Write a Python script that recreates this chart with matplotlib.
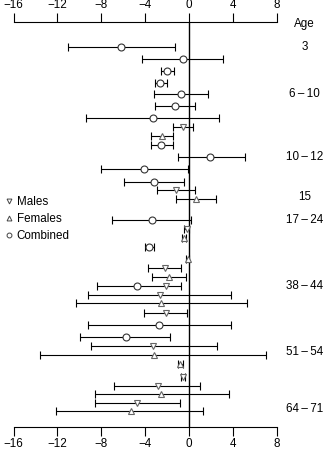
import matplotlib.pyplot as plt
from matplotlib.lines import Line2D

plt.rcParams['font.family'] = ['Liberation Sans', 'DejaVu Sans']

# one entry per estimate, top to bottom; row is the vertical slot position
row = [4.73, 5.93, 7.10, 8.30, 9.43, 10.63, 11.83, 12.73, 13.63, 14.53,
       15.67, 16.90, 18.17, 19.00, 19.87, 22.03, 22.93, 23.80, 24.67, 25.93,
       26.83, 27.67, 28.60, 28.60, 29.50, 30.33, 31.27, 32.50, 33.67, 34.60,
       35.47, 36.40, 37.67, 38.57, 39.40, 40.33, 41.13]
group = ['C', 'C', 'C', 'C', 'C', 'C', 'C', 'M', 'F', 'C',
         'C', 'C', 'C', 'M', 'F', 'C', 'M', 'F', 'C', 'F',
         'M', 'F', 'C', 'M', 'M', 'F', 'M', 'C', 'C', 'M',
         'F', 'F', 'M', 'M', 'F', 'M', 'F']
est = [-6.20, -0.57, -2.00, -2.64, -0.76, -1.27, -3.33, -0.60, -2.46, -2.55,
       1.89, -4.15, -3.21, -1.18, 0.61, -3.43, -0.24, -0.45, -3.70, -0.15,
       -2.19, -1.88, -4.74, -2.12, -2.67, -2.61, -2.12, -2.79, -5.79, -3.31,
       -3.24, -0.82, -0.57, -2.85, -2.58, -4.79, -5.34]
lower = [-11.00, -4.33, -2.58, -3.15, -3.19, -3.10, -9.41, -1.51, -3.52, -3.52,
         -1.06, -8.07, -5.98, -2.97, -1.18, -7.01, -0.45, -0.65, -4.03, -0.30,
         -3.73, -3.37, -8.38, -2.12, -9.20, -10.32, -4.10, -9.20, -9.98, -8.98,
         -13.57, -1.00, -0.75, -6.83, -8.62, -8.62, -12.11]
upper = [-1.30, 3.10, -1.39, -2.00, 1.67, 0.55, 2.73, 0.31, -1.46, -1.51,
         5.04, -0.15, -0.45, 0.52, 2.46, 0.15, -0.05, -0.25, -3.20, 0.00,
         -0.70, -0.27, -0.76, -2.12, 3.83, 5.28, -0.18, 3.83, -1.73, 2.49,
         6.96, -0.60, -0.39, 1.00, 3.59, -0.88, 1.28]

age_labels = ['3', '6\u2009\u2013\u200910', '10\u2009\u2013\u200912', '15',
              '17\u2009\u2013\u200924', '38\u2009\u2013\u200944',
              '51\u2009\u2013\u200954', '64\u2009\u2013\u200971']
age_rows = [4.73, 9.43, 15.67, 19.67, 22.03, 28.60, 35.23, 40.90]
xticks = [-16, -12, -8, -4, 0, 4, 8]

styles = {
    'C': dict(marker='o', ms=5.0, mec='#333333'),
    'M': dict(marker='v', ms=4.6, mec='#666666'),
    'F': dict(marker='^', ms=4.6, mec='#666666'),
}

fig = plt.figure(figsize=(3.23, 4.5), dpi=100)
ax = fig.add_axes([0.0418, 0.0504, 0.8158, 0.9])

ax.axvline(0, color='black', lw=1.0, zorder=1)
for y, g, e, lo, hi in zip(row, group, est, lower, upper):
    if hi > lo:
        ax.errorbar(e, y, xerr=[[e - lo], [hi - e]], fmt='none', ecolor='black',
                    elinewidth=0.8, capsize=3.2, capthick=0.8, zorder=2)
    ax.plot(e, y, ls='none', mfc='white', mew=0.8, zorder=3, **styles[g])

ax.set_xlim(-16, 8)
ax.set_ylim(42.73, 2.23)
ax.set_xticks(xticks)
ax.set_xticklabels([str(t).replace('-', '\u2212') for t in xticks])
ax.set_yticks([])
ax.tick_params(axis='x', which='both', top=True, labeltop=True,
               direction='out', length=6.5, width=0.8, labelsize=8.4, pad=1.5)
for side in ('left', 'right'):
    ax.spines[side].set_visible(False)
for side in ('top', 'bottom'):
    ax.spines[side].set_linewidth(0.8)

ax.text(10.5, 2.4, 'Age', ha='center', va='center', fontsize=8.4, clip_on=False)
for lab, y in zip(age_labels, age_rows):
    ax.text(10.5, y, lab, ha='center', va='center', fontsize=8.4, clip_on=False)

handles = [
    Line2D([], [], ls='none', marker='v', ms=3.5, mfc='white', mec='#444444', mew=0.7),
    Line2D([], [], ls='none', marker='^', ms=3.5, mfc='white', mec='#444444', mew=0.7),
    Line2D([], [], ls='none', marker='o', ms=3.5, mfc='white', mec='#444444', mew=0.7),
]
ax.legend(handles, ['Males', 'Females', 'Combined'], loc='upper left',
          bbox_to_anchor=(-0.03, 0.572), frameon=False, fontsize=8.4,
          handlelength=0.6, handletextpad=0.35, labelspacing=0.45,
          borderaxespad=0, borderpad=0)

fig.savefig('out.png', dpi=100)
